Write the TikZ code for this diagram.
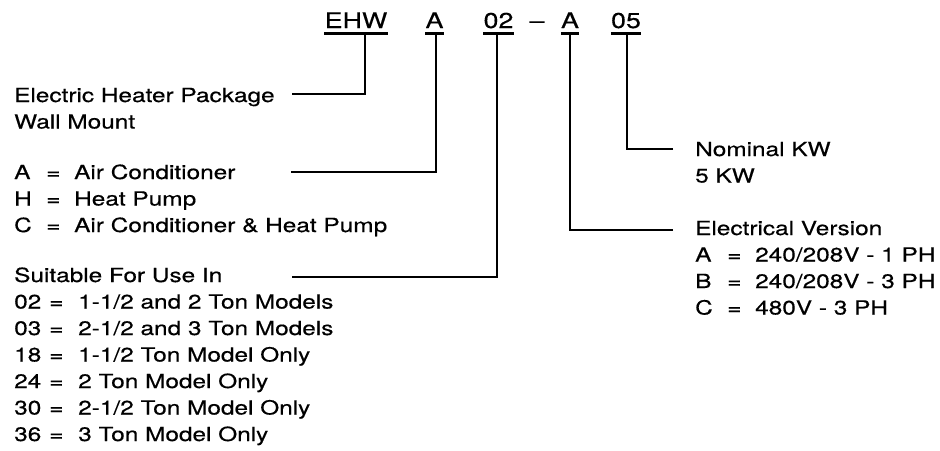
\documentclass[tikz,border=0pt]{standalone}
\usepackage{fontspec}
\setmainfont[FakeStretch=1.25,FakeBold=0.4]{TeX Gyre Heros}
\begin{document}
\begin{tikzpicture}[x=1pt,y=-1pt,
  code/.style={inner sep=0pt,anchor=base,font=\fontsize{21.5}{24}\selectfont},
  lbl/.style={inner sep=0pt,anchor=base west,font=\fontsize{19.5}{22}\selectfont},
  conn/.style={line width=1.5pt},
  uline/.style={line width=2.4pt}]
\useasboundingbox[fill=white] (0,0) rectangle (940,450);
% code letters
\node[code] (ehw) at (356,28) {EHW};
\node[code] (ca) at (434.5,28) {A};
\node[code] (c02) at (498.5,28) {02};
\node[code] (dash) at (537,28) {\textendash};
\node[code] (cv) at (570,28) {A};
\node[code] (c05) at (626,28) {05};
\foreach \n in {ehw,ca,c02,cv,c05}
  \draw[uline] ([yshift=-5.5pt]\n.base west) -- ([yshift=-5.5pt]\n.base east);
% left texts
\node[lbl] (t1) at (14,102) {Electric Heater Package};
\node[lbl] (t2) at (14,128.5) {Wall Mount};
\foreach \k/\v/\y [count=\i] in {A/{Air Conditioner}/179, H/{Heat Pump}/205.5, C/{Air Conditioner \& Heat Pump}/232}{
  \node[lbl] (k\i) at (14,\y) {\k};
  \node[lbl] (e\i) at (46,\y) {=};
  \node[lbl] (v\i) at (74,\y) {\v};
}
\node[lbl] (s0) at (14,282) {Suitable For Use In};
\foreach \k/\v/\y [count=\i] in {02/{1-1/2 and 2 Ton Models}/308.5, 03/{2-1/2 and 3 Ton Models}/335, 18/{1-1/2 Ton Model Only}/361.5, 24/{2 Ton Model Only}/388, 30/{2-1/2 Ton Model Only}/414.5, 36/{3 Ton Model Only}/441}{
  \node[lbl] (sk\i) at (14,\y) {\k};
  \node[lbl] (se\i) at (49,\y) {=};
  \node[lbl] (sv\i) at (78,\y) {\v};
}
% right texts
\node[lbl] (n1) at (695,156) {Nominal KW};
\node[lbl] (n2) at (695,182.5) {5 KW};
\node[lbl] (r0) at (695,235) {Electrical Version};
\foreach \k/\v/\y [count=\i] in {A/{240/208V - 1 PH}/261.5, B/{240/208V - 3 PH}/288, C/{480V - 3 PH}/314.5}{
  \node[lbl] (rk\i) at (695,\y) {\k};
  \node[lbl] (re\i) at (727,\y) {=};
  \node[lbl] (rv\i) at (755,\y) {\v};
}
% connector endpoints
\coordinate (p1) at (292,94);  \coordinate (q1) at (365,34);
\coordinate (p2) at (291,172); \coordinate (q2) at (436,34);
\coordinate (p3) at (292,277); \coordinate (q3) at (497,34);
\coordinate (p4) at (673,230); \coordinate (q4) at (570,34);
\coordinate (p5) at (673,149); \coordinate (q5) at (627,34);
\draw[conn] (p1) -| (q1);
\draw[conn] (p2) -| (q2);
\draw[conn] (p3) -| (q3);
\draw[conn] (p4) -| (q4);
\draw[conn] (p5) -| (q5);
\end{tikzpicture}
\end{document}
